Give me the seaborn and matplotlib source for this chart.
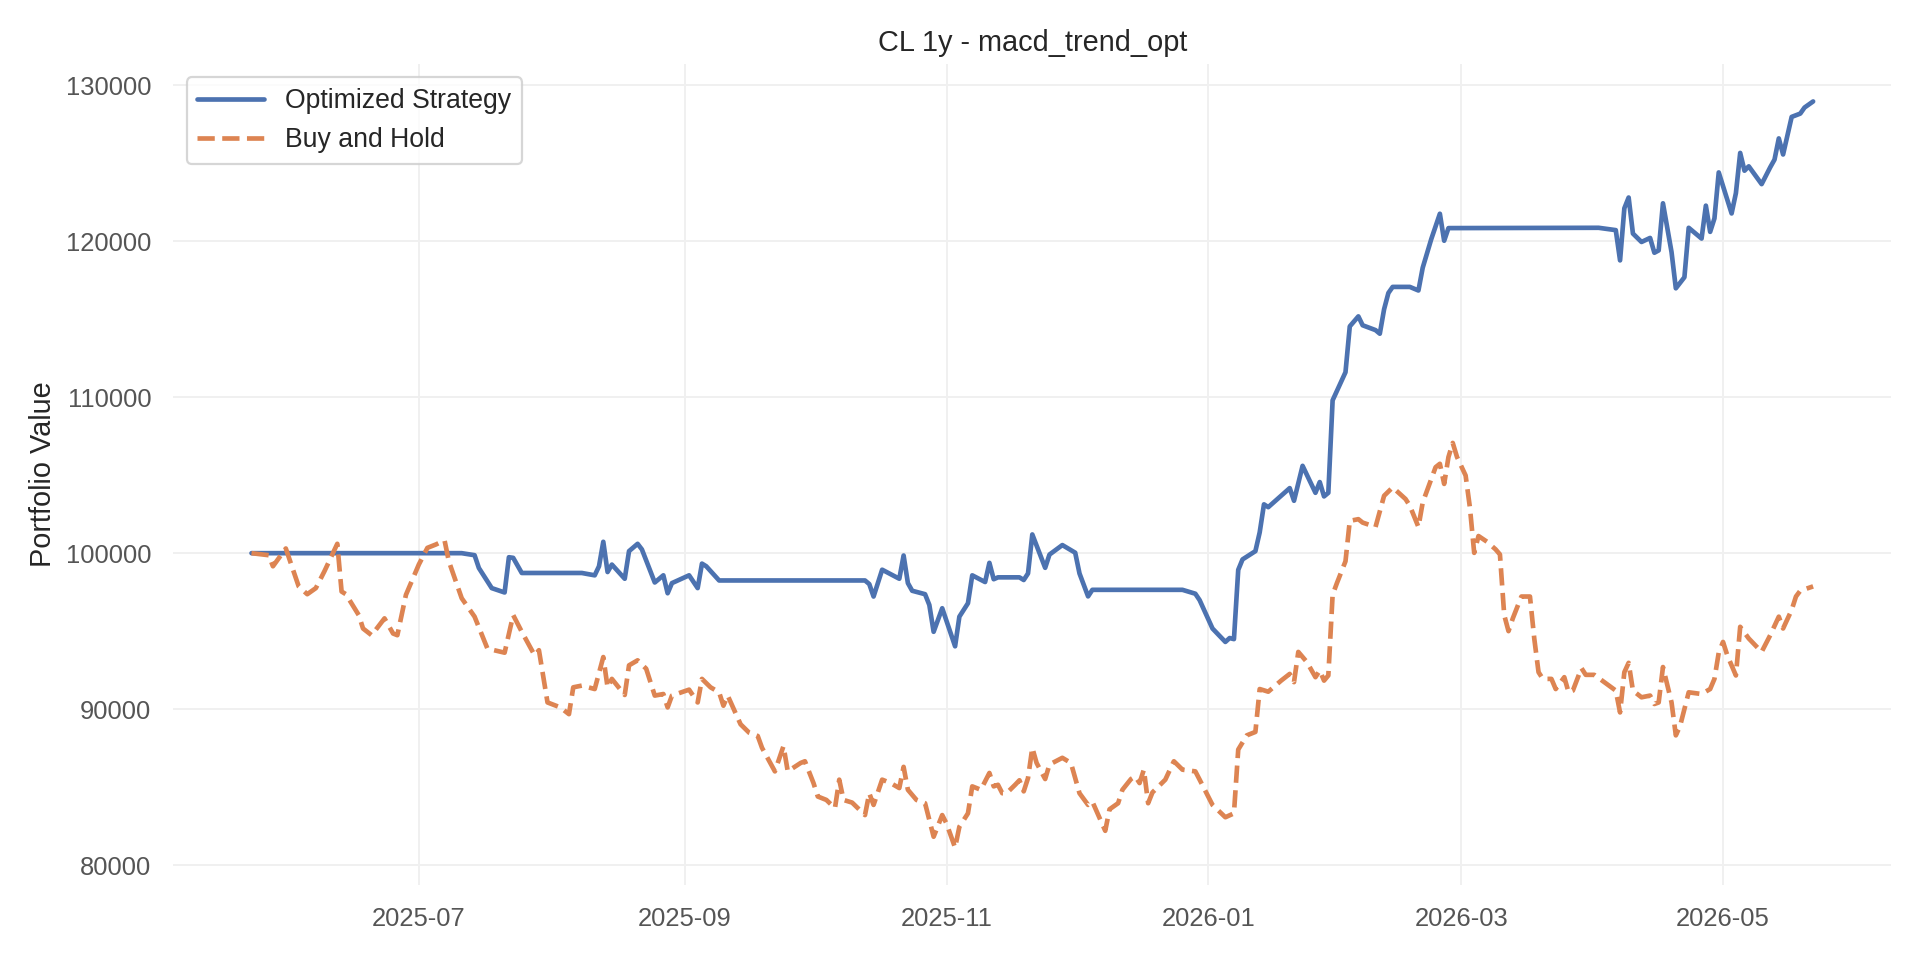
import matplotlib
matplotlib.use("Agg")
import matplotlib.pyplot as plt
import matplotlib.dates as mdates
import seaborn as sns
import pandas as pd

START = "2025-05-23"

# Optimized strategy: day offset from START and portfolio value
strat_days = [0, 49, 52, 53, 56, 59, 60, 61, 63, 77,
              80, 81, 82, 83, 84, 87, 88, 90, 91, 94,
              96, 97, 98, 102, 104, 105, 106, 109, 143, 144,
              145, 147, 151, 152, 153, 154, 157, 158, 159, 161,
              164, 165, 167, 168, 171, 172, 173, 174, 179, 180,
              181, 182, 185, 186, 189, 192, 193, 195, 196, 217,
              220, 221, 224, 227, 228, 229, 230, 231, 234, 235,
              236, 237, 242, 243, 245, 248, 249, 250, 251, 252,
              255, 256, 258, 259, 262, 263, 264, 265, 266, 270,
              272, 273, 275, 277, 278, 279, 314, 318, 319, 320,
              321, 322, 324, 326, 327, 328, 329, 331, 332, 334,
              335, 338, 339, 340, 341, 342, 345, 346, 347, 348,
              349, 352, 354, 355, 356, 357, 359, 361, 362, 364]
strat_values = [100000, 100000, 99870, 99050, 97760, 97480, 99740, 99700, 98730, 98730,
                98580, 99160, 100730, 98790, 99270, 98360, 100130, 100600, 100240, 98120,
                98580, 97430, 98080, 98580, 97760, 99330, 99160, 98250, 98250, 98020,
                97220, 98940, 98360, 99850, 98080, 97590, 97370, 96680, 94960, 96470,
                94030, 95930, 96790, 98580, 98150, 99380, 98330, 98450, 98450, 98280,
                98700, 101200, 99060, 99910, 100520, 100030, 98700, 97230, 97650, 97650,
                97400, 96990, 95170, 94310, 94560, 94490, 98930, 99600, 100130, 101330,
                103130, 102950, 104170, 103360, 105600, 103870, 104560, 103640, 103870, 109800,
                111600, 114540, 115180, 114610, 114300, 114070, 115640, 116680, 117070, 117070,
                116840, 118300, 120140, 121760, 120030, 120840, 120860, 120710, 118770, 122110,
                122800, 120490, 119950, 120210, 119260, 119410, 122430, 119300, 116980, 117690,
                120860, 120170, 122280, 120600, 121460, 124410, 121780, 123080, 125660, 124520,
                124800, 123660, 124740, 125230, 126590, 125560, 127970, 128180, 128570, 128960]

# Buy and hold: day offset from START and portfolio value
bh_days = [0, 4, 5, 8, 11, 13, 15, 17, 20, 21,
           22, 25, 26, 28, 31, 33, 34, 36, 39, 41,
           43, 45, 46, 49, 52, 55, 59, 61, 63, 66,
           67, 69, 72, 74, 75, 77, 80, 82, 83, 84,
           87, 88, 90, 92, 94, 96, 97, 98, 102, 104,
           105, 107, 109, 110, 111, 114, 116, 118, 119, 122,
           124, 125, 128, 129, 131, 132, 134, 136, 137, 138,
           140, 143, 144, 145, 147, 149, 151, 152, 153, 155,
           157, 159, 161, 162, 164, 165, 167, 168, 170, 172,
           173, 174, 175, 176, 178, 179, 180, 181, 182, 183,
           185, 186, 189, 191, 193, 195, 196, 199, 200, 202,
           203, 205, 206, 207, 208, 209, 210, 213, 215, 217,
           220, 221, 224, 227, 229, 230, 232, 234, 235, 237,
           240, 242, 243, 244, 246, 248, 249, 250, 251, 252,
           253, 255, 256, 258, 259, 262, 264, 266, 269, 270,
           272, 273, 276, 277, 278, 279, 280, 281, 283, 284,
           285, 286, 288, 290, 291, 292, 293, 294, 296, 298,
           299, 300, 301, 303, 304, 306, 307, 308, 310, 311,
           313, 318, 319, 320, 321, 322, 324, 326, 327, 328,
           329, 331, 332, 333, 335, 338, 340, 341, 342, 343,
           344, 346, 347, 349, 352, 354, 356, 357, 359, 360,
           361, 364]
bh_values = [100000, 99870, 99160, 100300, 97870, 97370, 97760, 98840, 100600, 97540,
             97370, 96030, 95170, 94740, 95820, 94850, 94740, 97330, 99270, 100340,
             100560, 100820, 99480, 97110, 95930, 93880, 93620, 96030, 94960, 93450,
             93780, 90430, 90110, 89680, 91400, 91510, 91290, 93340, 91400, 91940,
             90910, 92810, 93130, 92590, 90870, 90970, 90110, 90870, 91250, 90430,
             91940, 91400, 91080, 90220, 90870, 89030, 88490, 88280, 87520, 86010,
             87630, 86010, 86550, 86660, 85260, 84400, 84180, 83650, 85480, 84180,
             84010, 83210, 84610, 83860, 85480, 85260, 84940, 86300, 84830, 84180,
             83970, 81820, 83210, 82670, 81120, 82460, 83320, 85050, 84830, 85910,
             85050, 85150, 84610, 84610, 85150, 85440, 84730, 85580, 87520, 86550,
             85520, 86450, 86880, 86550, 84610, 83860, 84070, 82200, 83580, 83970,
             84830, 85520, 85690, 85260, 86120, 83970, 84660, 85480, 86660, 86120,
             86010, 85480, 83860, 83070, 83320, 87410, 88320, 88540, 91290, 91120,
             91830, 92260, 91730, 93670, 93020, 92050, 92480, 91830, 92160, 97330,
             98080, 99480, 102070, 102180, 101960, 101680, 103680, 104220, 103470, 103040,
             101680, 103250, 105510, 105730, 104440, 106160, 107070, 106160, 104980, 102930,
             100020, 101100, 100730, 100240, 99920, 96030, 95000, 95820, 97220, 97220,
             94530, 92370, 91940, 91940, 91290, 92050, 91080, 91190, 92630, 92200,
             92200, 91190, 89790, 92370, 92970, 91190, 90760, 90870, 90330, 90430,
             92700, 90430, 88320, 88930, 91080, 90970, 91290, 91940, 93620, 94310,
             93450, 92160, 95280, 94530, 93670, 94740, 95930, 95170, 96360, 97220,
             97590, 97870]

start = pd.Timestamp(START)
strat_dates = start + pd.to_timedelta(strat_days, unit="D")
bh_dates = start + pd.to_timedelta(bh_days, unit="D")

sns.set_theme(style="whitegrid", context="notebook")
plt.rcParams["font.family"] = ["Liberation Sans", "DejaVu Sans"]

fig, ax = plt.subplots(figsize=(12, 6), dpi=160)
sns.lineplot(x=strat_dates, y=strat_values, ax=ax, color="#4c72b0",
             linewidth=2.1, label="Optimized Strategy", estimator=None)
sns.lineplot(x=bh_dates, y=bh_values, ax=ax, color="#dd8452",
             linewidth=2.1, linestyle="--", label="Buy and Hold", estimator=None)

ax.set_title("CL 1y - macd_trend_opt", fontsize=13, color="#262626")
ax.set_ylabel("Portfolio Value", fontsize=13)
ax.set_xlabel("")
ax.xaxis.set_major_locator(mdates.MonthLocator(bymonth=[1, 3, 5, 7, 9, 11]))
ax.xaxis.set_major_formatter(mdates.DateFormatter("%Y-%m"))
ax.tick_params(axis="both", labelsize=11.5, labelcolor="#555555", length=0, pad=10)
ax.grid(True, color="#f0f0f0", linewidth=0.9)
for s in ax.spines.values():
    s.set_visible(False)
ax.legend(loc="upper left", fontsize=12, handlelength=2.5)

plt.tight_layout()
plt.savefig("out.png")
